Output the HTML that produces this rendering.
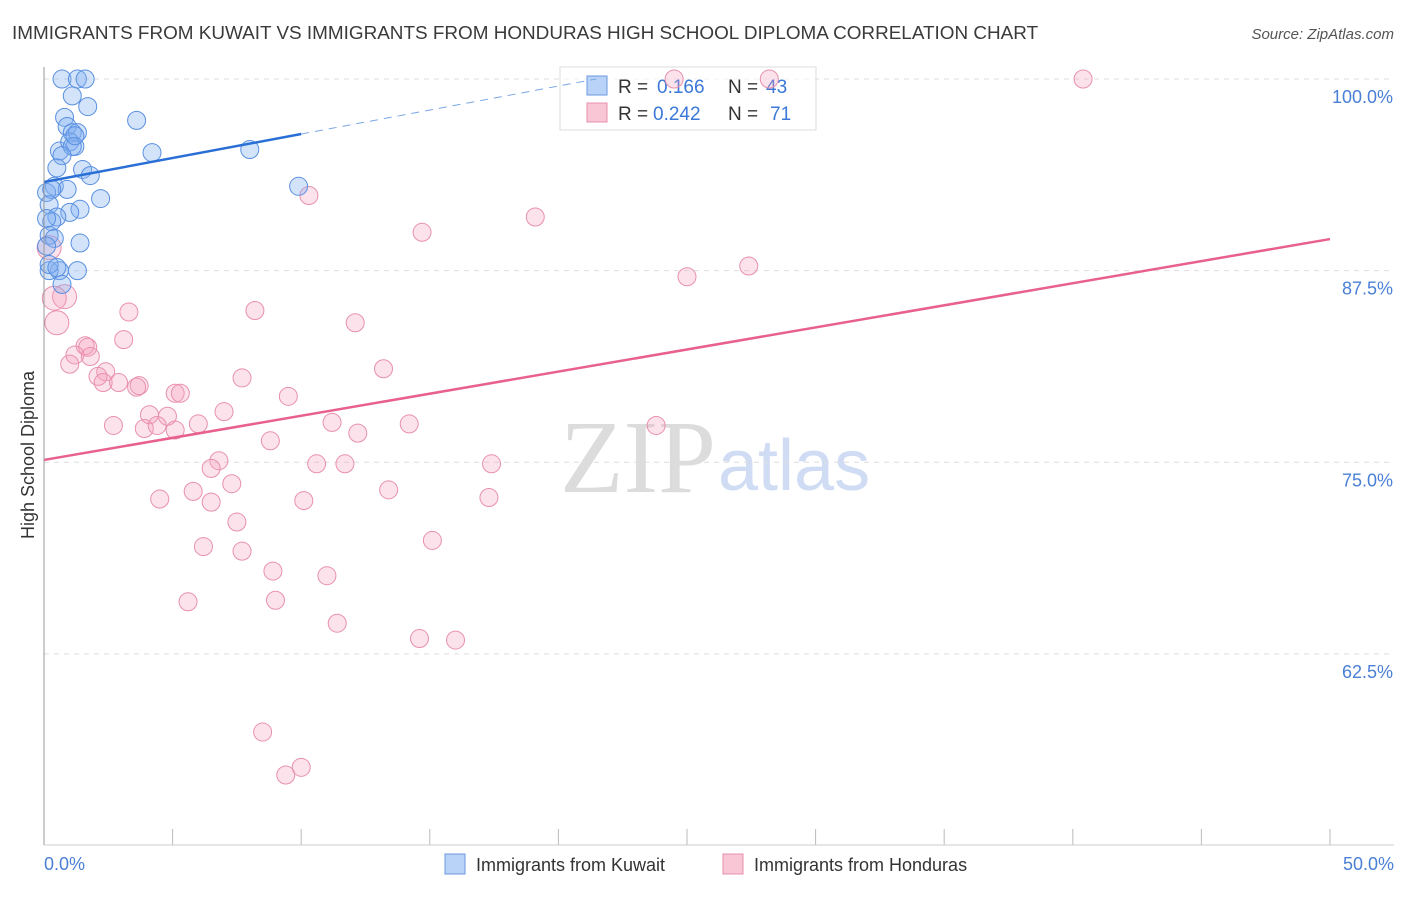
<!DOCTYPE html>
<html><head><meta charset="utf-8"><style>
body{margin:0;background:#fff;font-family:"Liberation Sans",sans-serif}
</style></head><body>
<svg id="c" width="1406" height="892" xmlns="http://www.w3.org/2000/svg">
<text x="12" y="39" font-size="18.9" fill="#3a3a3a">IMMIGRANTS FROM KUWAIT VS IMMIGRANTS FROM HONDURAS HIGH SCHOOL DIPLOMA CORRELATION CHART</text>
<text x="1394" y="39" font-size="15" fill="#555" font-style="italic" text-anchor="end">Source: ZipAtlas.com</text>
<text x="716" y="492" font-size="104" fill="#dcdcdc" text-anchor="end" font-family="Liberation Serif">ZIP</text>
<text x="718" y="490" font-size="72" fill="#cfdcf3">atlas</text>
<g id="grid"></g>
<g>
<rect x="560" y="67" width="256" height="63" fill="#fff" fill-opacity="0.6" stroke="#ddd"/>
<rect x="587" y="76" width="20" height="19" fill="#b8d3f7" stroke="#6b9ae0"/>
<text x="618" y="93" font-size="19" fill="#333">R =</text><text x="657" y="93" font-size="19" fill="#3b78d8">0.166</text>
<text x="728" y="93" font-size="19" fill="#333">N =</text><text x="766" y="93" font-size="19" fill="#3b78d8">43</text>
<rect x="587" y="103" width="20" height="19" fill="#f9c6d6" stroke="#e890ab"/>
<text x="618" y="120" font-size="19" fill="#333">R =</text><text x="653" y="120" font-size="19" fill="#3b78d8">0.242</text>
<text x="728" y="120" font-size="19" fill="#333">N =</text><text x="770" y="120" font-size="19" fill="#3b78d8">71</text>
</g>
<g id="pts"></g><g id="lines"></g>
<line x1="44" y1="67" x2="44" y2="845" stroke="#999"/>
<line x1="44" y1="845" x2="1394" y2="845" stroke="#ccc"/>
<text x="34" y="455" font-size="18" fill="#333" text-anchor="middle" transform="rotate(-90 34 455)">High School Diploma</text>
<text x="44" y="870" font-size="18" fill="#4a7fd6">0.0%</text>
<text x="1394" y="870" font-size="18" fill="#4a7fd6" text-anchor="end">50.0%</text>
<g>
<rect x="445" y="854" width="20" height="20" fill="#b8d3f7" stroke="#6b9ae0"/>
<text x="476" y="871" font-size="18" fill="#333">Immigrants from Kuwait</text>
<rect x="723" y="854" width="20" height="20" fill="#f9c6d6" stroke="#e890ab"/>
<text x="754" y="871" font-size="18" fill="#333">Immigrants from Honduras</text>
</g>
</svg>
<script>
const yTicks=[100,87.5,75,62.5];
const yTickLabels=["100.0%","87.5%","75.0%","62.5%"];
const xTicks=[0,5,10,15,20,25,30,35,40,45,50];
const kuwaitX=[0.7,1.3,1.6,1.1,1.7,3.6,0.8,0.9,1.1,1.3,0.6,1.0,1.2,1.1,0.7,1.5,0.5,1.8,0.4,0.9,0.1,0.3,4.2,8.0,9.9,2.2,1.4,1.0,0.2,0.5,0.3,0.1,0.2,0.4,1.4,0.6,1.3,0.2,0.7,0.2,0.1,0.5,1.2];
const kuwaitY=[100,100,100,98.9,98.2,97.3,97.5,96.9,96.5,96.5,95.3,95.9,95.6,95.6,95.0,94.1,94.2,93.7,93.0,92.8,92.6,92.8,95.2,95.4,93.0,92.2,91.5,91.3,91.8,91.0,90.7,90.9,89.8,89.6,89.3,87.5,87.5,87.5,86.6,87.9,89.1,87.7,96.3];
const hondX=[24.5,28.2,40.4,10.3,19.1,14.7,25.0,27.4,0.8,0.5,0.4,3.3,8.2,12.1,3.1,1.6,1.7,1.2,1.8,1.0,2.4,2.1,2.3,2.9,3.7,3.6,5.1,5.3,9.5,7.7,13.2,7.0,4.1,4.8,2.7,3.9,4.4,5.1,6.0,11.2,12.2,14.2,23.8,8.8,6.8,6.5,10.6,11.7,17.4,7.3,5.8,4.5,6.5,10.1,13.4,17.3,7.5,6.2,7.7,15.1,8.9,11.0,5.6,9.0,11.4,14.6,16.0,8.5,10.0,9.4,0.2];
const hondY=[100,100,100,92.4,91.0,90.0,87.1,87.8,85.8,84.1,85.7,84.8,84.9,84.1,83.0,82.6,82.5,82.0,81.9,81.4,80.9,80.6,80.2,80.2,80.0,79.9,79.5,79.5,79.3,80.5,81.1,78.3,78.1,78.0,77.4,77.2,77.4,77.1,77.5,77.6,76.9,77.5,77.4,76.4,75.1,74.6,74.9,74.9,74.9,73.6,73.1,72.6,72.4,72.5,73.2,72.7,71.1,69.5,69.2,69.9,67.9,67.6,65.9,66.0,64.5,63.5,63.4,57.4,55.1,54.6,89.0];
const kuwaitTrend=[93.28,96.41], hondTrend=[75.15,89.56];
const X=v=>44+v/50*1286, Y=v=>79+(100-v)*15.33;
const NS="http://www.w3.org/2000/svg";
function mk(parent,tag,attrs){const e=document.createElementNS(NS,tag);for(const k in attrs)e.setAttribute(k,attrs[k]);document.getElementById(parent).appendChild(e);return e;}
yTicks.forEach((t,i)=>{
  const g=mk('grid','line',{x1:44,x2:1394,y1:Y(t),y2:Y(t),stroke:'#ddd','stroke-dasharray':'5,5'});
  
  
  const l=mk('grid','text',{x:1393,y:Y(t)+24,'font-size':18,fill:'#4a7fd6','text-anchor':'end'});
  l.textContent=yTickLabels[i];
  
  
});
xTicks.forEach(t=>{
  const e=mk('grid','line',{x1:X(t),x2:X(t),y1:829,y2:845,stroke:'#bbb'});
  
  
});
hondX.forEach((x,i)=>{
  const r=x<1?12:9;
  const c=mk('pts','circle',{cx:X(x),cy:Y(hondY[i]),r:r,fill:'rgba(245,160,190,0.3)',stroke:'#e891ad','stroke-width':1});
  
  
});
kuwaitX.forEach((x,i)=>{
  const c=mk('pts','circle',{cx:X(x),cy:Y(kuwaitY[i]),r:9,fill:'rgba(130,175,240,0.35)',stroke:'#5a90e0','stroke-width':1});
  
  
});
const slopeK=(kuwaitTrend[1]-kuwaitTrend[0])/10;
const xEnd=(100-kuwaitTrend[0])/slopeK;
let e=mk('lines','line',{x1:X(0),y1:Y(kuwaitTrend[0]),x2:X(10),y2:Y(kuwaitTrend[1]),stroke:'#2a6fd6','stroke-width':2.5});


e=mk('lines','line',{x1:X(10),y1:Y(kuwaitTrend[1]),x2:X(xEnd),y2:Y(100),stroke:'#7aa6e6','stroke-width':1,'stroke-dasharray':'8,6'});


e=mk('lines','line',{x1:X(0),y1:Y(hondTrend[0]),x2:X(50),y2:Y(hondTrend[1]),stroke:'#e8608c','stroke-width':2.5});


</script>
</body></html>
